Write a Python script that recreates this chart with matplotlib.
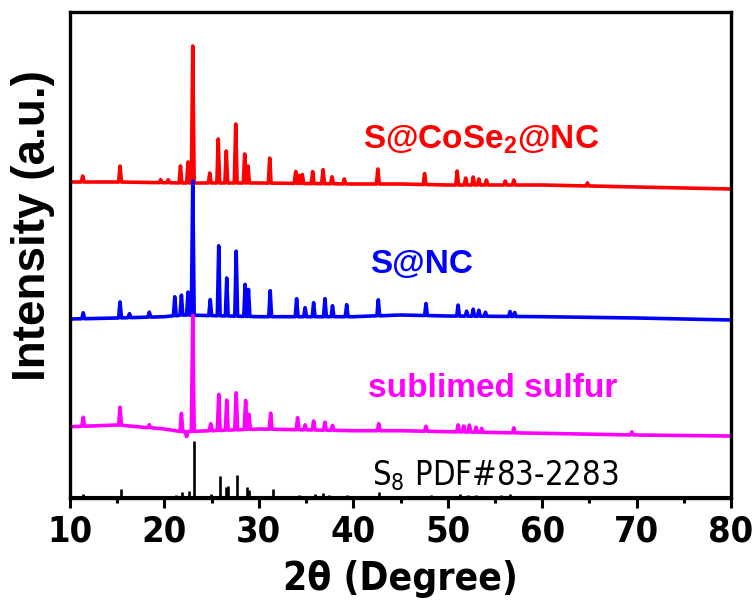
import matplotlib
matplotlib.use('Agg')
import matplotlib.pyplot as plt
from matplotlib import font_manager as fm
import numpy as np

plt.rcParams['mathtext.fontset'] = 'custom'
plt.rcParams['mathtext.rm'] = 'Liberation Sans:bold'
plt.rcParams['mathtext.sf'] = 'DejaVu Sans:stretch=condensed'

# baselines (2theta, intensity a.u.)
base_x = [10, 15, 20, 22, 30, 40, 45, 50, 60, 70, 80]
red_base = [316, 316, 315.3, 315, 315, 314, 314, 313, 313, 311, 309]
blue_base = [179, 180, 181.3, 183, 181.3, 181.3, 183, 182, 181.3, 180, 178]
mag_base = [71.3, 73, 69, 66.3, 69, 67.3, 67.3, 66.3, 64.7, 63, 62]

# peaks: position (2theta) and height above baseline
red_pos = [11.35, 15.3, 19.6, 20.4, 21.7, 22.5, 23.0, 24.8, 25.7, 26.55, 27.55, 28.5, 28.85,
           31.15, 33.9, 34.3, 34.6, 35.7, 36.8, 37.75, 39.05, 42.6, 47.55, 51.0, 51.9, 52.7,
           53.3, 54.1, 56.1, 57.0, 64.8]
red_h = [6, 16, 3, 3, 17, 21, 137, 10, 44, 32, 59, 29, 17,
         25, 12, 8, 9, 12, 14, 7, 5, 15, 11, 14, 7, 8,
         6, 5, 4, 5, 3]

blue_pos = [11.4, 15.3, 16.3, 18.4, 21.1, 21.8, 22.5, 23.0, 24.85, 25.75, 26.6, 27.6, 28.55,
            28.9, 31.2, 34.0, 34.9, 35.8, 37.0, 37.8, 39.3, 42.65, 47.7, 51.1, 52.0, 52.7,
            53.3, 54.0, 56.6, 57.1]
blue_h = [6, 16, 4, 5, 19, 20, 23, 134, 16, 70, 38, 65, 32,
          27, 26, 18, 9, 14, 18, 11, 12, 16, 12, 11, 5, 7,
          6, 4, 5, 4]

mag_pos = [11.4, 15.3, 18.4, 21.8, 22.35, 23.0, 24.9, 25.75, 26.6, 27.6, 28.6, 28.95, 31.25,
           34.1, 34.9, 35.8, 37.0, 37.8, 42.7, 47.7, 51.1, 51.7, 52.3, 53.0, 53.6, 57.0, 69.5]
mag_h = [9, 18, 3, 18, -5, 116, 7, 36, 30, 37, 29, 15, 16,
         12, 5, 9, 8, 5, 7, 5, 7, 6, 7, 5, 4, 5, 3]

# S8 PDF#83-2283 reference lines
ref_pos = [11.4, 15.4, 18.3, 21.2, 21.9, 22.6, 23.1, 24.9, 25.85, 26.5, 26.75, 27.7, 28.7,
           28.95, 31.5, 34.2, 35.0, 35.9, 36.8, 37.4, 38.2, 39.3, 42.7, 45.2, 46.9, 48.2,
           51.3, 52.2, 53.0, 54.0, 55.6, 56.6, 57.7, 65.1, 69.8]
ref_h = [4, 9, 1, 3, 6, 7, 57, 4, 22, 11, 12, 23, 11,
         8, 9, 3, 2, 4, 5, 3, 2, 3, 6, 2, 2, 3,
         4, 3, 3, 2, 3, 4, 2, 2, 1]


def trace(pos, h, bx, by, hw=0.15):
    xs = list(bx)
    ys = list(by)
    for p, v in zip(pos, h):
        b = np.interp(p, bx, by)
        xs += [p - hw, p, p + hw]
        ys += [b, b + v, b]
    order = np.argsort(xs, kind='stable')
    return np.array(xs)[order], np.array(ys)[order]


fig = plt.figure(figsize=(7.55, 6.01), dpi=100)
ax = fig.add_axes([70/755, 103/601, 661/755, 486/601])

x, y = trace(red_pos, red_h, base_x, red_base)
ax.plot(x, y, color='#ff0000', lw=2.6)
x, y = trace(blue_pos, blue_h, base_x, blue_base)
ax.plot(x, y, color='#0000ff', lw=2.6)
x, y = trace(mag_pos, mag_h, base_x, mag_base)
ax.plot(x, y, color='#ff00ff', lw=2.6)

ax.vlines(ref_pos, 0, ref_h, color='black', lw=1.9)
ax.plot([10, 80], [1, 1], color='black', lw=1.5)

ax.set_xlim(10, 80)
ax.set_ylim(0, 486)

narrow = fm.FontProperties(family='DejaVu Sans', stretch='condensed', weight='bold', size=26)
narrow_lab = fm.FontProperties(family='DejaVu Sans', stretch='condensed', weight='bold', size=28)
narrow_reg = fm.FontProperties(family='DejaVu Sans', stretch='condensed', size=23.5)

ax.text(41.0, 350, r'S@CoSe$_\mathrm{2}$@NC', color='#ff0000', fontsize=24,
        fontweight='bold', family='Liberation Sans', va='baseline')
ax.text(41.8, 225, 'S@NC', color='#0000ff', fontsize=24,
        fontweight='bold', family='Liberation Sans', va='baseline')
ax.text(41.6, 101, 'sublimed sulfur', color='#ff00ff', fontsize=24,
        fontweight='bold', family='Liberation Sans', va='baseline')
ax.text(42.0, 13, r'S$_\mathsf{8}$ PDF#83-2283', color='black',
        fontproperties=narrow_reg, va='baseline')

ax.set_xticks([10, 20, 30, 40, 50, 60, 70, 80])
ax.set_xticks([15, 25, 35, 45, 55, 65, 75], minor=True)
ax.set_yticks([])
ax.tick_params(axis='x', which='major', direction='out', length=7, width=2.2, pad=5)
ax.tick_params(axis='x', which='minor', direction='out', length=3.5, width=2.2)
for lab in ax.get_xticklabels():
    lab.set_fontproperties(narrow)
for s in ax.spines.values():
    s.set_linewidth(2.4)

ax.set_xlabel('2θ (Degree)', fontproperties=narrow_lab, labelpad=8)
ax.set_ylabel('Intensity (a.u.)', fontsize=33, fontweight='bold', family='Liberation Sans')
ax.yaxis.set_label_coords(-0.022, 0.56)

fig.savefig('out.png', dpi=100)
